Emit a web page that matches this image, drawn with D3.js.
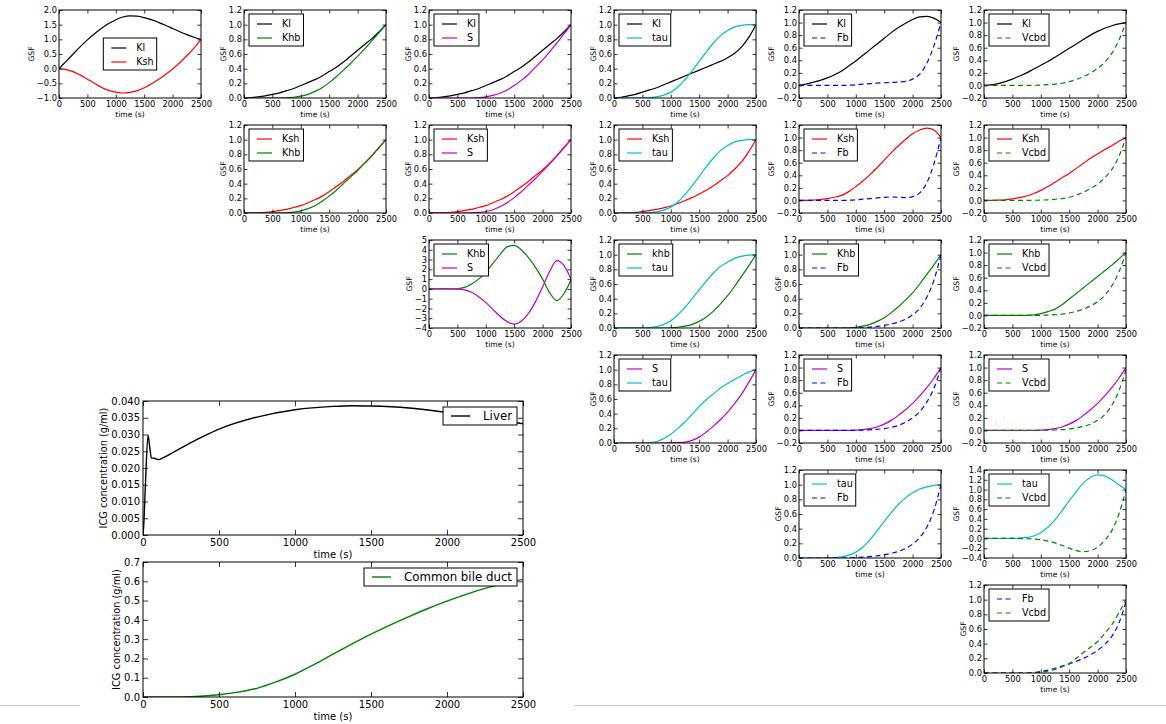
<!DOCTYPE html>
<html><head><meta charset="utf-8">
<script src="https://cdn.jsdelivr.net/npm/d3@7"></script>
<style>
body{margin:0;background:#fff}
svg{display:block}
text{font-family:"DejaVu Sans",sans-serif;fill:#000}
</style>
</head><body>
<svg id="c" width="1166" height="724"></svg>
<script>
// ---------------- DATA ----------------
const t = [0,125,250,375,500,625,750,875,1000,1125,1250,1375,1500,1625,1750,1875,2000,2125,2250,2375,2500];
const xTicks = [0,500,1000,1500,2000,2500];

// row 0
const p01_Kl  = [0,0.25,0.5,0.75,0.98,1.19,1.38,1.54,1.67,1.76,1.8,1.79,1.74,1.67,1.58,1.48,1.37,1.26,1.16,1.07,1.0];
const p01_Ksh = [0,-0.03,-0.1,-0.22,-0.36,-0.5,-0.64,-0.74,-0.8,-0.83,-0.81,-0.75,-0.65,-0.52,-0.37,-0.2,-0.01,0.2,0.44,0.7,1.0];
const p02_Kl  = [0,0.005,0.015,0.03,0.05,0.07,0.1,0.13,0.17,0.21,0.25,0.3,0.36,0.42,0.49,0.57,0.65,0.73,0.81,0.9,1.0];
const p02_Khb = [0,0,0,0,0,0,0.002,0.01,0.025,0.05,0.09,0.14,0.21,0.29,0.38,0.47,0.57,0.67,0.78,0.89,1.0];
const p03_Kl  = [0,0.005,0.015,0.03,0.05,0.07,0.1,0.13,0.17,0.21,0.25,0.3,0.36,0.42,0.49,0.57,0.65,0.73,0.81,0.9,1.0];
const p03_S   = [0,0,0,0,0,0,0,0.004,0.015,0.035,0.065,0.11,0.17,0.24,0.32,0.42,0.52,0.63,0.75,0.87,1.0];
const p04_Kl  = [0,0.01,0.03,0.05,0.08,0.11,0.14,0.18,0.22,0.26,0.3,0.34,0.38,0.42,0.46,0.5,0.55,0.61,0.7,0.83,1.0];
const p04_tau = [0,0,0,0,0,0.005,0.015,0.04,0.08,0.15,0.25,0.37,0.5,0.63,0.75,0.85,0.92,0.97,0.99,1.0,1.0];
const p05_Kl  = [0,0.02,0.05,0.08,0.12,0.17,0.23,0.31,0.39,0.48,0.57,0.66,0.75,0.84,0.92,0.99,1.05,1.09,1.1,1.07,1.0];
const p05_Fb  = [0,0,0,0,0,0,0,0.004,0.01,0.02,0.028,0.036,0.043,0.048,0.053,0.065,0.1,0.18,0.35,0.63,1.0];
const p06_Kl  = [0,0.01,0.03,0.06,0.1,0.15,0.2,0.26,0.32,0.38,0.45,0.52,0.59,0.66,0.73,0.8,0.86,0.91,0.95,0.98,1.0];
const p06_Vcbd= [0,0,0,0,0,0,0,0.002,0.006,0.012,0.02,0.035,0.06,0.095,0.14,0.2,0.27,0.37,0.51,0.72,1.0];
// row 1
const p12_Ksh = [0,0.001,0.004,0.01,0.02,0.035,0.05,0.075,0.1,0.14,0.18,0.23,0.29,0.36,0.43,0.51,0.59,0.68,0.78,0.89,1.0];
const p12_Khb = [0,0,0,0,0,0.001,0.005,0.013,0.03,0.06,0.1,0.16,0.23,0.31,0.4,0.49,0.58,0.68,0.78,0.89,1.0];
const p13_Ksh = [0,0.001,0.004,0.01,0.02,0.035,0.05,0.075,0.1,0.14,0.18,0.23,0.29,0.36,0.43,0.51,0.59,0.68,0.78,0.89,1.0];
const p13_S   = [0,0,0,0,0,0,0.002,0.008,0.02,0.045,0.085,0.14,0.21,0.29,0.38,0.47,0.57,0.67,0.78,0.89,1.0];
const p14_Ksh = [0,0.001,0.004,0.01,0.02,0.035,0.05,0.07,0.095,0.13,0.17,0.21,0.26,0.31,0.37,0.44,0.51,0.6,0.7,0.84,1.0];
const p14_tau = [0,0,0,0,0,0.005,0.015,0.04,0.08,0.15,0.25,0.37,0.5,0.63,0.75,0.85,0.92,0.97,0.99,1.0,1.0];
const p15_Ksh = [0,0.002,0.006,0.015,0.03,0.05,0.08,0.14,0.22,0.31,0.41,0.52,0.64,0.76,0.87,0.97,1.06,1.12,1.15,1.12,1.0];
const p15_Fb  = [0,0,0,0,0,0,0,0.004,0.01,0.02,0.03,0.04,0.05,0.055,0.05,0.045,0.06,0.12,0.28,0.58,1.0];
const p16_Ksh = [0,0.001,0.004,0.01,0.025,0.045,0.07,0.11,0.16,0.22,0.29,0.36,0.43,0.51,0.59,0.67,0.74,0.81,0.87,0.94,1.0];
const p16_Vcbd= [0,0,0,0,0,0,0,0.002,0.005,0.01,0.018,0.03,0.05,0.085,0.13,0.19,0.26,0.36,0.49,0.7,1.0];
// row 2
const p23_Khb = [0,0,0,0,0.03,0.15,0.5,1.0,1.7,2.6,3.5,4.3,4.45,4.0,3.2,2.2,1.0,-0.4,-1.2,-0.5,0.9];
const p23_S   = [0,0,0,0,-0.02,-0.1,-0.35,-0.8,-1.4,-2.1,-2.8,-3.35,-3.6,-3.3,-2.5,-1.3,0.2,1.8,2.9,2.4,1.0];
const p24_khb = [0,0,0,0,0,0,0,0,0.003,0.01,0.025,0.05,0.09,0.15,0.23,0.33,0.44,0.57,0.71,0.85,1.0];
const p24_tau = [0,0,0,0,0,0.005,0.02,0.05,0.1,0.18,0.28,0.4,0.52,0.64,0.75,0.84,0.9,0.95,0.98,0.995,1.0];
const p25_Khb = [0,0,0,0,0,0,0,0.003,0.01,0.025,0.05,0.09,0.14,0.21,0.29,0.38,0.48,0.6,0.73,0.86,1.0];
const p25_Fb  = [0,0,0,0,0,0,0,0,0.002,0.006,0.012,0.022,0.035,0.055,0.08,0.12,0.18,0.27,0.42,0.65,1.0];
const p26_Khb = [0,0,0,0,0,0,0.002,0.01,0.03,0.06,0.1,0.17,0.26,0.35,0.44,0.53,0.62,0.71,0.8,0.9,1.0];
const p26_Vcbd= [0,0,0,0,0,0,0,0,0.002,0.006,0.012,0.022,0.04,0.065,0.1,0.15,0.22,0.32,0.47,0.69,1.0];
// row 3
const p34_S   = [0,0,0,0,0,0,0,0,0.002,0.005,0.012,0.035,0.08,0.15,0.23,0.32,0.42,0.54,0.67,0.83,1.0];
const p34_tau = [0,0,0,0,0,0.005,0.02,0.06,0.12,0.2,0.29,0.39,0.5,0.59,0.67,0.75,0.81,0.87,0.92,0.97,1.0];
const p35_S   = [0,0,0,0,0,0,0,0.001,0.004,0.012,0.028,0.055,0.1,0.16,0.24,0.33,0.43,0.55,0.68,0.83,1.0];
const p35_Fb  = [0,0,0,0,0,0,0,0,0.002,0.005,0.01,0.018,0.03,0.05,0.08,0.13,0.2,0.3,0.45,0.67,1.0];
const p36_S   = [0,0,0,0,0,0,0,0.001,0.004,0.012,0.028,0.055,0.1,0.16,0.24,0.33,0.43,0.55,0.68,0.83,1.0];
const p36_Vcbd= [0,0,0,0,0,0,0,0,0.001,0.003,0.007,0.013,0.024,0.04,0.065,0.1,0.16,0.25,0.4,0.63,0.97];
// row 4
const p45_tau = [0,0,0,0,0,0.005,0.015,0.04,0.08,0.15,0.25,0.37,0.5,0.62,0.73,0.82,0.89,0.94,0.97,0.99,1.0];
const p45_Fb  = [0,0,0,0,0,0,0,0.002,0.006,0.012,0.02,0.03,0.045,0.065,0.09,0.13,0.19,0.28,0.42,0.65,1.0];
const p46_tau = [0,0,0,0,0,0.005,0.02,0.05,0.12,0.23,0.38,0.57,0.77,0.96,1.13,1.25,1.3,1.28,1.2,1.1,1.0];
const p46_Vcbd= [0,0,0,0,0,0,-0.005,-0.01,-0.025,-0.05,-0.09,-0.14,-0.2,-0.25,-0.27,-0.25,-0.18,-0.04,0.16,0.5,1.0];
// row 5
const p56_Fb  = [0,0,0,0,0,0,0,0.005,0.02,0.04,0.065,0.095,0.125,0.16,0.2,0.25,0.31,0.39,0.5,0.68,0.97];
const p56_Vcbd= [0,0,0,0,0,0,0,0.002,0.01,0.025,0.05,0.085,0.127,0.2,0.28,0.35,0.43,0.54,0.66,0.82,1.0];

// large plots
const liverTime = [0,5,15,33,45,55,75,100,130,200,300,400,500,750,1000,1250,1375,1500,1750,2000,2250,2500];
const liverConc = [0,0.003,0.014,0.0298,0.026,0.023,0.0229,0.0225,0.023,0.0247,0.0272,0.0295,0.0316,0.0352,0.0374,0.0384,0.0386,0.0385,0.0379,0.0366,0.0351,0.0332];
const bileConc  = [0,0,0.0005,0.004,0.012,0.025,0.045,0.078,0.118,0.168,0.222,0.275,0.326,0.373,0.417,0.459,0.497,0.532,0.563,0.588,0.61];
const liverTicks = [0,0.005,0.01,0.015,0.02,0.025,0.03,0.035,0.04];
const bileTicks  = [0,0.1,0.2,0.3,0.4,0.5,0.6,0.7];

// tick label sets for GSF panels
const ticksA = [-1,-0.5,0,0.5,1,1.5,2];
const ticksB = [0,0.2,0.4,0.6,0.8,1.0,1.2];
const ticksC = [-0.2,0,0.2,0.4,0.6,0.8,1.0,1.2];
const ticksD = [-4,-3,-2,-1,0,1,2,3,4,5];
const ticksE = [-0.4,-0.2,0,0.2,0.4,0.6,0.8,1.0,1.2,1.4];

// ---------------- STYLES ----------------
const styles = {
  Kl:{c:"#000000",d:null}, Ksh:{c:"#ff0000",d:null}, Khb:{c:"#008000",d:null}, khb:{c:"#008000",d:null},
  S:{c:"#bf00bf",d:null}, tau:{c:"#00bfbf",d:null}, Fb:{c:"#0000ff",d:"5,3.5"}, Vcbd:{c:"#008000",d:"5,3.5"}
};

const panels = [
  {r:0,c:0,y:[-1,2],tk:ticksA,f:".1f",loc:"center",s:[["Kl",p01_Kl],["Ksh",p01_Ksh]]},
  {r:0,c:1,y:[0,1.2],tk:ticksB,f:".1f",s:[["Kl",p02_Kl],["Khb",p02_Khb]]},
  {r:0,c:2,y:[0,1.2],tk:ticksB,f:".1f",s:[["Kl",p03_Kl],["S",p03_S]]},
  {r:0,c:3,y:[0,1.2],tk:ticksB,f:".1f",s:[["Kl",p04_Kl],["tau",p04_tau]]},
  {r:0,c:4,y:[-0.2,1.2],tk:ticksC,f:".1f",s:[["Kl",p05_Kl],["Fb",p05_Fb]]},
  {r:0,c:5,y:[-0.2,1.2],tk:ticksC,f:".1f",s:[["Kl",p06_Kl],["Vcbd",p06_Vcbd]]},
  {r:1,c:1,y:[0,1.2],tk:ticksB,f:".1f",s:[["Ksh",p12_Ksh],["Khb",p12_Khb]]},
  {r:1,c:2,y:[0,1.2],tk:ticksB,f:".1f",s:[["Ksh",p13_Ksh],["S",p13_S]]},
  {r:1,c:3,y:[0,1.2],tk:ticksB,f:".1f",s:[["Ksh",p14_Ksh],["tau",p14_tau]]},
  {r:1,c:4,y:[-0.2,1.2],tk:ticksC,f:".1f",s:[["Ksh",p15_Ksh],["Fb",p15_Fb]]},
  {r:1,c:5,y:[-0.2,1.2],tk:ticksC,f:".1f",s:[["Ksh",p16_Ksh],["Vcbd",p16_Vcbd]]},
  {r:2,c:2,y:[-4,5],tk:ticksD,f:"d",s:[["Khb",p23_Khb],["S",p23_S]]},
  {r:2,c:3,y:[0,1.2],tk:ticksB,f:".1f",s:[["khb",p24_khb],["tau",p24_tau]]},
  {r:2,c:4,y:[0,1.2],tk:ticksB,f:".1f",s:[["Khb",p25_Khb],["Fb",p25_Fb]]},
  {r:2,c:5,y:[-0.2,1.2],tk:ticksC,f:".1f",s:[["Khb",p26_Khb],["Vcbd",p26_Vcbd]]},
  {r:3,c:3,y:[0,1.2],tk:ticksB,f:".1f",s:[["S",p34_S],["tau",p34_tau]]},
  {r:3,c:4,y:[-0.2,1.2],tk:ticksC,f:".1f",s:[["S",p35_S],["Fb",p35_Fb]]},
  {r:3,c:5,y:[-0.2,1.2],tk:ticksC,f:".1f",s:[["S",p36_S],["Vcbd",p36_Vcbd]]},
  {r:4,c:4,y:[0,1.2],tk:ticksB,f:".1f",s:[["tau",p45_tau],["Fb",p45_Fb]]},
  {r:4,c:5,y:[-0.4,1.4],tk:ticksE,f:".1f",s:[["tau",p46_tau],["Vcbd",p46_Vcbd]]},
  {r:5,c:5,y:[0,1.2],tk:ticksB,f:".1f",s:[["Fb",p56_Fb],["Vcbd",p56_Vcbd]]}
];

// ---------------- DRAW ----------------
const svg = d3.select("#c");
svg.append("rect").attr("width",1166).attr("height",724).attr("fill","#fff");
const defs = svg.append("defs");
let clipId = 0;

function frameAxes(g, x, y, w, h, yt, fmt, tl, fs, pad) {
  const style = sel => { sel.select(".domain").remove();
    sel.selectAll("line").attr("stroke","#000").attr("stroke-width",0.8);
    sel.selectAll("text").attr("font-size",fs).attr("fill","#000"); };
  g.append("g").attr("transform",`translate(0,${h})`)
    .call(d3.axisBottom(x).tickValues(xTicks).tickSize(-tl).tickPadding(pad+1).tickFormat(d3.format("d"))).call(style);
  g.append("g").call(d3.axisTop(x).tickValues(xTicks).tickSize(-tl).tickFormat(()=>"")).call(style);
  const la = g.append("g").call(d3.axisLeft(y).tickValues(yt).tickSize(-tl).tickPadding(pad).tickFormat(d3.format(fmt))).call(style);
  g.append("g").attr("transform",`translate(${w},0)`)
    .call(d3.axisRight(y).tickValues(yt).tickSize(-tl).tickFormat(()=>"")).call(style);
  g.append("rect").attr("width",w).attr("height",h).attr("fill","none").attr("stroke","#000").attr("stroke-width",1);
  return la;
}

function legend(g, items, opt) {
  const lg = g.append("g");
  const box = lg.append("rect").attr("fill","#fff").attr("stroke","#000").attr("stroke-width",1);
  let maxW = 0;
  const texts = items.map((it,i) => {
    const tx = lg.append("text").attr("font-size",opt.fs).attr("dy","0.35em").text(it.name);
    maxW = Math.max(maxW, tx.node().getComputedTextLength());
    return tx;
  });
  const bw = opt.textX + maxW + opt.rpad;
  const bh = opt.top + opt.rowH*(items.length-1) + opt.bottom;
  let x0, y0;
  if (opt.loc === "center") { x0 = opt.w/2 - bw/2; y0 = opt.h/2 - bh/2; }
  else if (opt.loc === "ur") { x0 = opt.w - opt.off - bw; y0 = opt.off; }
  else { x0 = opt.offX; y0 = opt.offY; }
  box.attr("x",x0).attr("y",y0).attr("width",bw).attr("height",bh);
  items.forEach((it,i) => {
    const cy = y0 + opt.top + i*opt.rowH;
    lg.append("line").attr("x1",x0+opt.lx1).attr("x2",x0+opt.lx2).attr("y1",cy).attr("y2",cy)
      .attr("stroke",it.c).attr("stroke-width",opt.lw).attr("stroke-dasharray",it.d);
    texts[i].attr("x",x0+opt.textX).attr("y",cy);
  });
}

// small GSF panels
const W0 = 142, H0 = 88;
panels.forEach(p => {
  const left = 59 + 185*p.c, top = 10 + 115*p.r;
  const g = svg.append("g").attr("transform",`translate(${left},${top})`);
  const x = d3.scaleLinear().domain([0,2500]).range([0,W0]);
  const y = d3.scaleLinear().domain(p.y).range([H0,0]);
  const id = "clip"+(clipId++);
  defs.append("clipPath").attr("id",id).append("rect").attr("width",W0).attr("height",H0);
  const line = d3.line().x((d,i)=>x(t[i])).y(d=>y(d)).curve(d3.curveMonotoneX);
  const lg = g.append("g").attr("clip-path",`url(#${id})`);
  p.s.forEach(([name,vals]) => {
    const st = styles[name];
    lg.append("path").datum(vals).attr("d",line).attr("fill","none")
      .attr("stroke",st.c).attr("stroke-width",1.2).attr("stroke-dasharray",st.d);
  });
  const la = frameAxes(g, x, y, W0, H0, p.tk, p.f, 3.5, "8.3px", 2);
  const bb = la.node().getBBox();
  g.append("text").attr("transform",`translate(${bb.x-3},${H0/2}) rotate(-90)`)
    .attr("text-anchor","middle").attr("font-size","7.6px").text("GSF");
  g.append("text").attr("x",W0/2).attr("y",H0+19).attr("text-anchor","middle").attr("font-size","7.6px").text("time (s)");
  legend(g, p.s.map(([name])=>({name, c:styles[name].c, d:styles[name].d})),
    {fs:"9.6px", loc:p.loc||"ul", w:W0, h:H0, offX:5, offY:4, top:10, rowH:14, bottom:8,
     lx1:8, lx2:23, textX:33, rpad:3, lw:1.2});
});

// large panels
function bigPanel(top, h, xs, ys, dom, yt, fmt, name, color) {
  const left = 143, w = 380;
  const g = svg.append("g").attr("transform",`translate(${left},${top})`);
  const x = d3.scaleLinear().domain([0,2500]).range([0,w]);
  const y = d3.scaleLinear().domain(dom).range([h,0]);
  const id = "clip"+(clipId++);
  defs.append("clipPath").attr("id",id).append("rect").attr("width",w).attr("height",h);
  const line = d3.line().x((d,i)=>x(xs[i])).y(d=>y(d)).curve(d3.curveMonotoneX);
  g.append("g").attr("clip-path",`url(#${id})`).append("path").datum(ys).attr("d",line)
    .attr("fill","none").attr("stroke",color).attr("stroke-width",1.4);
  const la = frameAxes(g, x, y, w, h, yt, fmt, 5, "10px", 3);
  const bb = la.node().getBBox();
  g.append("text").attr("transform",`translate(${bb.x-4},${h/2}) rotate(-90)`)
    .attr("text-anchor","middle").attr("font-size","9.8px").text("ICG concentration (g/ml)");
  g.append("text").attr("x",w/2).attr("y",h+23).attr("text-anchor","middle").attr("font-size","10px").text("time (s)");
  legend(g, [{name, c:color, d:null}],
    {fs:"11.8px", loc:"ur", w, h, off:6, top:9, rowH:14, bottom:9, lx1:8, lx2:27, textX:40, rpad:5, lw:1.4});
}
bigPanel(401, 134, liverTime, liverConc, [0,0.04], liverTicks, ".3f", "Liver", "#000000");
bigPanel(562, 135, t, bileConc, [0,0.7], bileTicks, ".1f", "Common bile duct", "#008000");

// page separator lines at the bottom
svg.append("line").attr("x1",0).attr("x2",80).attr("y1",705.5).attr("y2",705.5).attr("stroke","#cfcfcf");
svg.append("line").attr("x1",574).attr("x2",1166).attr("y1",705.5).attr("y2",705.5).attr("stroke","#cfcfcf");
</script>
</body></html>
